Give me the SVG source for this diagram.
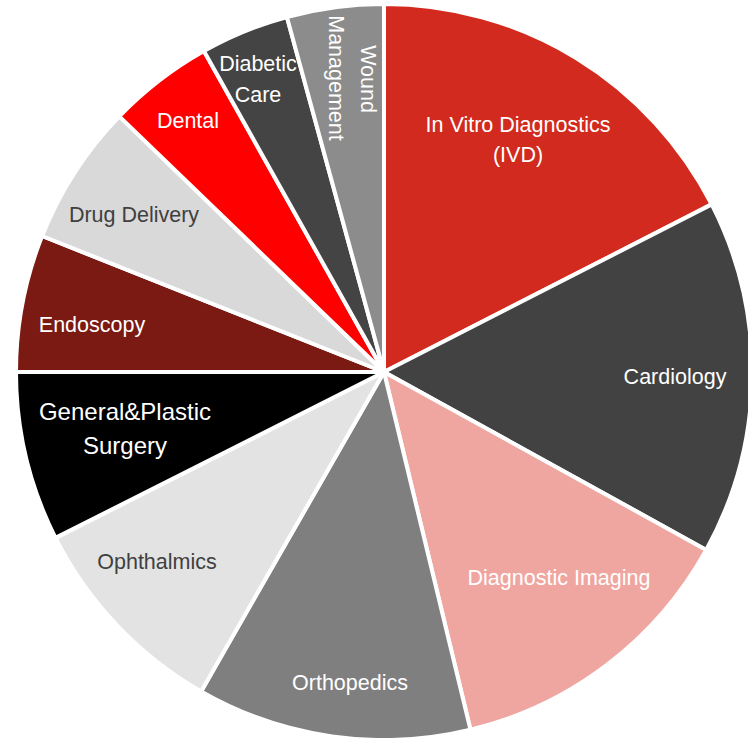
<svg xmlns="http://www.w3.org/2000/svg" width="748" height="738" viewBox="0 0 748 738">
  <style>
    .slice { stroke: #ffffff; stroke-width: 4; stroke-linejoin: round; }
    .lbl { font-family: "Liberation Sans", Arial, sans-serif; font-size: 21.5px; text-anchor: middle; fill: #ffffff; }
    .big { font-size: 24px; }
    .dark { fill: #404040; }
  </style>
  <rect width="748" height="738" fill="#ffffff"/>

  <!-- pie centred at (384,372), radius 368; slices run clockwise from 12 o'clock -->
  <g id="ivd">
    <path class="slice" fill="#D22A1E" d="M384,372 L384,4 A368,368 0 0 1 711.7,204.4 Z"/>
    <text class="lbl" x="518" y="132">In Vitro Diagnostics</text>
    <text class="lbl" x="518" y="162">(IVD)</text>
  </g>
  <g id="cardiology">
    <path class="slice" fill="#424242" d="M384,372 L711.7,204.4 A368,368 0 0 1 706.2,549.9 Z"/>
    <text class="lbl" x="675" y="384">Cardiology</text>
  </g>
  <g id="diagnostic-imaging">
    <path class="slice" fill="#F0A6A0" d="M384,372 L706.2,549.9 A368,368 0 0 1 470.5,729.7 Z"/>
    <text class="lbl" x="559" y="585">Diagnostic Imaging</text>
  </g>
  <g id="orthopedics">
    <path class="slice" fill="#7F7F7F" d="M384,372 L470.5,729.7 A368,368 0 0 1 201.1,691.4 Z"/>
    <text class="lbl" x="350" y="690" fill="#F2F2F2">Orthopedics</text>
  </g>
  <g id="ophthalmics">
    <path class="slice" fill="#E3E3E3" d="M384,372 L201.1,691.4 A368,368 0 0 1 55.5,537.9 Z"/>
    <text class="lbl dark" x="157" y="569">Ophthalmics</text>
  </g>
  <g id="general-plastic-surgery">
    <path class="slice" fill="#000000" d="M384,372 L55.5,537.9 A368,368 0 0 1 16,372 Z"/>
    <text class="lbl big" x="125" y="420">General&amp;Plastic</text>
    <text class="lbl big" x="125" y="454">Surgery</text>
  </g>
  <g id="endoscopy">
    <path class="slice" fill="#7A1A12" d="M384,372 L16,372 A368,368 0 0 1 42.1,236 Z"/>
    <text class="lbl" x="92" y="332">Endoscopy</text>
  </g>
  <g id="drug-delivery">
    <path class="slice" fill="#D9D9D9" d="M384,372 L42.1,236 A368,368 0 0 1 119.3,116.4 Z"/>
    <text class="lbl dark" x="134" y="222">Drug Delivery</text>
  </g>
  <g id="dental">
    <path class="slice" fill="#FF0000" d="M384,372 L119.3,116.4 A368,368 0 0 1 203.9,51.1 Z"/>
    <text class="lbl" x="188" y="128">Dental</text>
  </g>
  <g id="diabetic-care">
    <path class="slice" fill="#444444" d="M384,372 L203.9,51.1 A368,368 0 0 1 286.9,17 Z"/>
    <text class="lbl" x="258" y="71">Diabetic</text>
    <text class="lbl" x="258" y="102">Care</text>
  </g>
  <g id="wound-management">
    <path class="slice" fill="#8C8C8C" d="M384,372 L286.9,17 A368,368 0 0 1 384,4 Z"/>
    <text class="lbl" transform="translate(361,79) rotate(90)">Wound</text>
    <text class="lbl" transform="translate(329,78) rotate(90)">Management</text>
  </g>
</svg>
